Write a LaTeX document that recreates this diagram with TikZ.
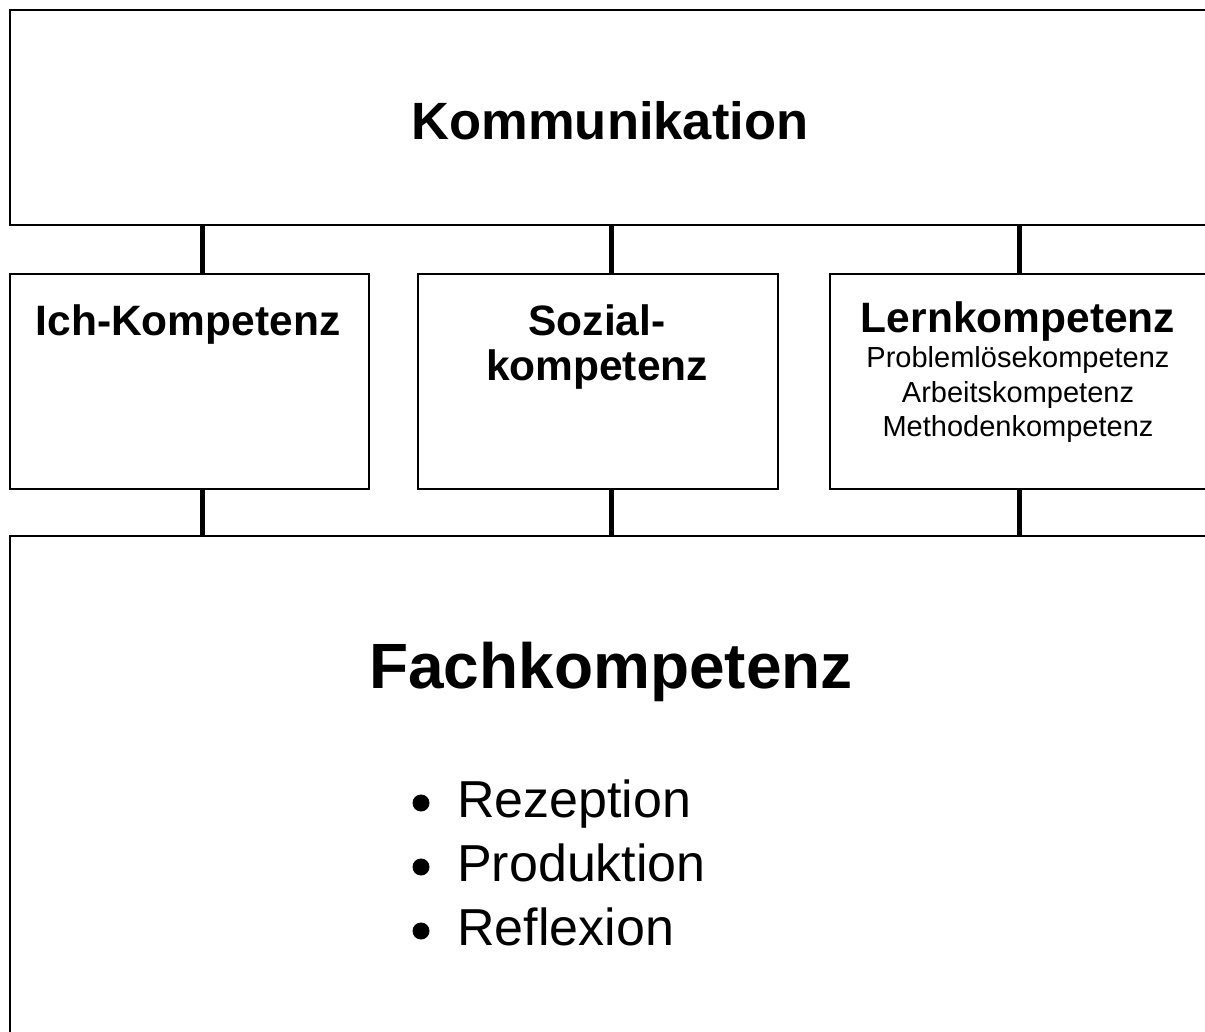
\documentclass[tikz,border=0pt]{standalone}
\usepackage{fontspec}
\setmainfont{Liberation Sans}
\usetikzlibrary{positioning}

\tikzset{
  box/.style={draw, line width=2pt, rectangle, anchor=north west, inner sep=0pt, minimum height=215pt},
  link/.style={line width=5pt},
  bigtitle/.style={anchor=base, inner sep=0pt, font=\fontsize{52.5}{62}\selectfont\bfseries},
  head/.style={anchor=base, inner sep=0pt, font=\fontsize{42.5}{50}\selectfont\bfseries},
  sub/.style={anchor=base, inner sep=0pt, font=\fontsize{29}{34}\selectfont},
  item/.style={anchor=base west, inner sep=0pt, font=\fontsize{52}{62}\selectfont},
  dot/.style={circle, fill, inner sep=0pt, minimum size=17pt},
}

\begin{document}
\begin{tikzpicture}[x=1pt,y=-1pt]
\useasboundingbox (0,0) rectangle (1205,1032);
\clip (0,0) rectangle (1205,1032);

% boxes
\node[box, minimum width=1202pt] (kom) at (9,9) {};
\node[box, minimum width=359pt] (ich) at (9,273) {};
\node[box, minimum width=360pt] (soz) at (417,273) {};
\node[box, minimum width=379pt] (lern) at (829,273) {};
\node[box, minimum width=1202pt, minimum height=600pt] (fach) at (9,535) {};

% connectors
\draw[link] ([xshift=12.5pt]ich.north) -- ([xshift=12.5pt]ich.north |- kom.south);
\draw[link] ([xshift=13pt]soz.north) -- ([xshift=13pt]soz.north |- kom.south);
\draw[link] (lern.north) -- (lern.north |- kom.south);
\draw[link] ([xshift=12.5pt]ich.south) -- ([xshift=12.5pt]ich.south |- fach.north);
\draw[link] ([xshift=13pt]soz.south) -- ([xshift=13pt]soz.south |- fach.north);
\draw[link] (lern.south) -- (lern.south |- fach.north);

% texts
\node[bigtitle] (komtxt) at (610,140) {Kommunikation};
\node[head] (ichtxt) at (188,335) {Ich-Kompetenz};
\node[head] (soztxt1) at (597,335) {Sozial-};
\node[head] (soztxt2) at (597,380) {kompetenz};
\node[head] (lerntxt) at (1018,333) {Lernkompetenz};
\foreach \t [count=\i] in {Problemlösekompetenz, Arbeitskompetenz, Methodenkompetenz}
  \node[sub] (lernsub\i) at (1018,333+34.5*\i) {\t};

\node[bigtitle, font=\fontsize{64}{76}\selectfont\bfseries] (fachtxt) at (611,688) {Fachkompetenz};
\foreach \t [count=\i] in {Rezeption, Produktion, Reflexion} {
  \node[item] (item\i) at (457,753+64*\i) {\t};
  \node[dot] (dot\i) at (421,739+64*\i) {};
}
\end{tikzpicture}
\end{document}
